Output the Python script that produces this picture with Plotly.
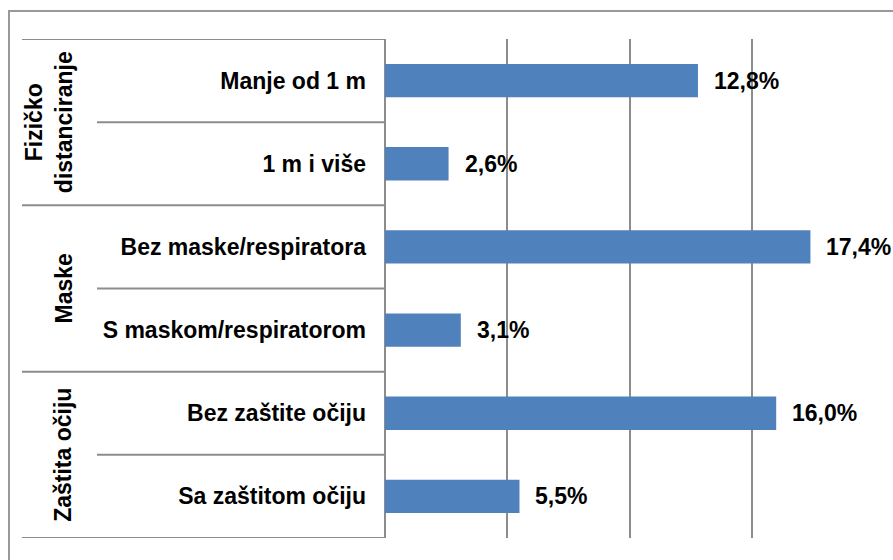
import plotly.graph_objects as go

categories = ["Manje od 1 m", "1 m i više", "Bez maske/respiratora",
              "S maskom/respiratorom", "Bez zaštite očiju", "Sa zaštitom očiju"]
values = [12.8, 2.6, 17.4, 3.1, 16.0, 5.5]
groups = ["Fizičko<br>distanciranje", "Maske", "Zaštita očiju"]
group_sizes = [2, 2, 2]

W, H = 893, 560
L, R, T, B = 385, 874, 39, 538
LINE = "#8c8c8c"
FONT = "Liberation Sans, Arial, sans-serif"
FS = 23


def px(xp):
    return (xp - L) / (R - L)


def py(yp):
    return (B - yp) / (B - T)


fig = go.Figure(go.Bar(
    x=values, y=categories, orientation="h",
    marker=dict(color="#4F81BD", line=dict(width=0)),
    hoverinfo="skip",
))

shapes = []
annotations = []

# value labels
for c, v in zip(categories, values):
    annotations.append(dict(
        x=v, y=c, xref="x", yref="y", xanchor="left", yanchor="middle",
        xshift=14, showarrow=False,
        text=f"<b>{v:.1f}%</b>".replace(".", ","),
        font=dict(family=FONT, size=FS, color="black"),
    ))

# row separators and group labels
start = 0
shapes.append(dict(type="line", xref="paper", yref="y", x0=px(22), x1=0,
                   y0=-0.5, y1=-0.5, line=dict(color=LINE, width=2)))
group_x = [49, 63, 63]
for g, n, gx in zip(groups, group_sizes, group_x):
    for k in range(1, n):
        yy = start + k - 0.5
        shapes.append(dict(type="line", xref="paper", yref="y", x0=px(97), x1=0,
                           y0=yy, y1=yy, line=dict(color=LINE, width=2)))
    end = start + n - 0.5
    shapes.append(dict(type="line", xref="paper", yref="y", x0=px(22), x1=0,
                       y0=end, y1=end, line=dict(color=LINE, width=2)))
    annotations.append(dict(
        x=px(gx), y=start + (n - 1) / 2, xref="paper", yref="y",
        xanchor="center", yanchor="middle", textangle=-90, showarrow=False,
        text=f"<b>{g}</b>", font=dict(family=FONT, size=FS, color="black"),
    ))
    start += n

# outer border
shapes.append(dict(type="rect", xref="paper", yref="paper",
                   x0=px(9), x1=px(W + 20), y0=py(H + 20), y1=py(11),
                   line=dict(color="#999999", width=2), layer="below"))

fig.update_layout(
    width=W, height=H,
    margin=dict(l=L, r=W - R, t=T, b=H - B),
    paper_bgcolor="white", plot_bgcolor="white",
    bargap=0.6, showlegend=False,
    shapes=shapes, annotations=annotations,
    xaxis=dict(range=[0, 20], dtick=5, showgrid=True, gridcolor=LINE, gridwidth=2,
               zeroline=True, zerolinecolor=LINE, zerolinewidth=2,
               showticklabels=False, ticks="", fixedrange=True),
    yaxis=dict(type="category", range=[5.5, -0.5], showgrid=False, zeroline=False,
               ticks="", ticklabelstandoff=18,
               tickfont=dict(family=FONT, size=FS, color="black", weight="bold"),
               fixedrange=True),
)

fig.write_html("out.html", config={"displayModeBar": False},
               post_script="document.body.style.margin='0';document.body.style.overflow='hidden';")
